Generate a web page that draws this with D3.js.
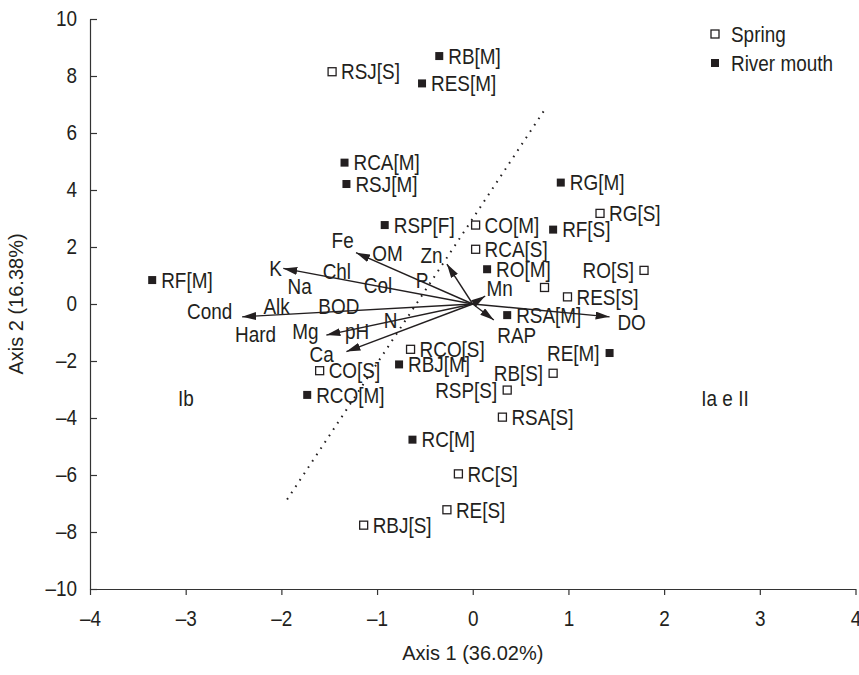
<!DOCTYPE html>
<html lang="en">
<head>
    <meta charset="UTF-8">
    <script src="https://cdn.jsdelivr.net/npm/d3@7/dist/d3.min.js"></script>
    <title>PCA biplot</title>
    <style>
        body { margin: 0; background: #fff; }
        text { font-family: "Liberation Sans", Arial, Helvetica, sans-serif; fill: #231f20; }
    </style>
</head>
<body>
    <svg width="859" height="675"></svg>
    <script>
        // sites - spring (open squares)
        const springNames = ['RSJ[S]', 'RG[S]', 'CO[M]', 'RCA[S]', 'RO[S]', '', 'RES[S]', 'RCO[S]', 'CO[S]', 'RB[S]', 'RSP[S]', 'RSA[S]', 'RC[S]', 'RE[S]', 'RBJ[S]'];
        const springX = [-1.47, 1.33, 0.03, 0.03, 1.79, 0.75, 0.99, -0.65, -1.60, 0.84, 0.36, 0.31, -0.15, -0.27, -1.14];
        const springY = [8.15, 3.18, 2.77, 1.92, 1.18, 0.58, 0.25, -1.59, -2.34, -2.43, -3.02, -3.97, -5.96, -7.22, -7.76];

        // sites - river mouth (filled squares)
        const mouthNames = ['RB[M]', 'RES[M]', 'RCA[M]', 'RSJ[M]', 'RG[M]', 'RSP[F]', 'RF[S]', 'RO[M]', 'RF[M]', 'RSA[M]', 'RE[M]', 'RBJ[M]', 'RCO[M]', 'RC[M]'];
        const mouthX = [-0.35, -0.53, -1.34, -1.32, 0.92, -0.92, 0.84, 0.15, -3.35, 0.36, 1.43, -0.77, -1.73, -0.63];
        const mouthY = [8.70, 7.74, 4.96, 4.21, 4.26, 2.77, 2.61, 1.22, 0.84, -0.39, -1.72, -2.12, -3.19, -4.76];

        // labels written on the left of their marker
        const leftLabels = ['RE[M]', 'RB[S]', 'RSP[S]', 'RO[S]'];

        // variable arrows (tips)
        const arrowNames = ['K', 'Cond', 'Fe', 'Mg', 'Ca', 'Zn', 'RAP', 'Mn', 'DO'];
        const arrowX = [-1.98, -2.41, -1.22, -1.53, -1.32, -0.27, 0.22, 0.13, 1.43];
        const arrowY = [1.25, -0.45, 1.80, -1.09, -1.67, 1.40, -0.56, 0.28, -0.45];

        // variable names
        const varNames = ['K', 'Chl', 'Na', 'Alk', 'BOD', 'Cond', 'Hard', 'Mg', 'pH', 'Ca', 'Fe', 'OM', 'Col', 'P', 'Zn', 'Mn', 'N', 'RAP', 'DO'];
        const varX = [-2.06, -1.42, -1.81, -2.05, -1.40, -2.75, -2.27, -1.75, -1.21, -1.58, -1.36, -0.89, -0.99, -0.53, -0.43, 0.28, -0.86, 0.46, 1.66];
        const varY = [1.27, 1.16, 0.61, -0.09, -0.09, -0.27, -1.05, -0.94, -0.97, -1.75, 2.25, 1.78, 0.67, 0.84, 1.72, 0.55, -0.56, -1.09, -0.64];

        // dotted separating line (ends)
        const splitX = [-1.94, 0.76];
        const splitY = [-6.86, 6.86];

        const xTicks = [-4, -3, -2, -1, 0, 1, 2, 3, 4];
        const yTicks = [-10, -8, -6, -4, -2, 0, 2, 4, 6, 8, 10];

        const ink = '#231f20';
        const fs = 21.5;      // label font size
        const narrow = 0.88;  // horizontal squeeze, the original font is a condensed one
        const svg = d3.select('svg');

        const x = d3.scaleLinear().domain([-4, 4]).range([90, 855.5]);
        const y = d3.scaleLinear().domain([-10, 10]).range([589, 19]);

        // axes
        const xAxis = svg.append('g')
            .attr('transform', `translate(0,${y(-10)})`)
            .call(d3.axisBottom(x).tickValues(xTicks).tickSize(6).tickSizeOuter(0).tickPadding(16)
                .tickFormat(d => d < 0 ? '\u2013' + Math.abs(d) : d));
        const yAxis = svg.append('g')
            .attr('transform', `translate(${x(-4)},0)`)
            .call(d3.axisLeft(y).tickValues(yTicks).tickSize(-7).tickSizeOuter(0).tickPadding(13)
                .tickFormat(d => d < 0 ? '\u2013' + Math.abs(d) : d));
        [xAxis, yAxis].forEach(a => {
            a.selectAll('path, line').attr('stroke', '#333').attr('stroke-width', 1.2);
            a.selectAll('text').attr('font-size', fs).attr('fill', ink)
                .style('font-family', '"Liberation Sans", Arial, sans-serif');
        });

        // dotted line
        svg.append('line')
            .attr('x1', x(splitX[0])).attr('y1', y(splitY[0]))
            .attr('x2', x(splitX[1])).attr('y2', y(splitY[1]))
            .attr('stroke', ink).attr('stroke-width', 2)
            .attr('stroke-dasharray', '1.6,6');

        // arrow head
        svg.append('defs').append('marker')
            .attr('id', 'head')
            .attr('viewBox', '0 0 14 8')
            .attr('refX', 14).attr('refY', 4)
            .attr('markerWidth', 14).attr('markerHeight', 8)
            .attr('markerUnits', 'userSpaceOnUse')
            .attr('orient', 'auto')
            .append('path').attr('d', 'M0,0 L14,4 L0,8 Z').attr('fill', ink);

        svg.append('g')
            .selectAll('line')
            .data(arrowNames)
            .enter()
            .append('line')
            .attr('x1', x(0)).attr('y1', y(0))
            .attr('x2', (d, i) => x(arrowX[i]))
            .attr('y2', (d, i) => y(arrowY[i]))
            .attr('stroke', ink).attr('stroke-width', 1.4)
            .attr('marker-end', 'url(#head)');

        svg.append('g')
            .selectAll('text')
            .data(varNames)
            .enter()
            .append('text')
            .attr('x', (d, i) => x(varX[i]))
            .attr('y', (d, i) => y(varY[i]))
            .attr('dy', '0.36em')
            .attr('text-anchor', 'middle')
            .attr('font-size', fs)
            .text(d => d);

        // sites
        function drawSites(names, xs, ys, filled) {
            const g = svg.append('g');
            g.selectAll('rect')
                .data(names)
                .enter()
                .append('rect')
                .attr('x', (d, i) => x(xs[i]) - 4)
                .attr('y', (d, i) => y(ys[i]) - 4)
                .attr('width', 8).attr('height', 8)
                .attr('fill', filled ? ink : '#fff')
                .attr('stroke', ink).attr('stroke-width', filled ? 0 : 1.3);
            g.selectAll('text')
                .data(names)
                .enter()
                .append('text')
                .attr('x', (d, i) => x(xs[i]) + (leftLabels.includes(d) ? -10 : 9))
                .attr('y', (d, i) => y(ys[i]))
                .attr('dy', '0.36em')
                .attr('text-anchor', d => leftLabels.includes(d) ? 'end' : 'start')
                .attr('font-size', fs)
                .text(d => d);
        }
        drawSites(springNames, springX, springY, false);
        drawSites(mouthNames, mouthX, mouthY, true);

        // group labels
        svg.append('text').attr('x', 186).attr('y', 398).attr('dy', '0.36em')
            .attr('text-anchor', 'middle').attr('font-size', fs).text('Ib');
        svg.append('text').attr('x', 725).attr('y', 398).attr('dy', '0.36em')
            .attr('text-anchor', 'middle').attr('font-size', fs).text('Ia e II');

        // legend
        const legend = svg.append('g').attr('transform', 'translate(715,34)');
        [['Spring', false], ['River mouth', true]].forEach((item, i) => {
            legend.append('rect')
                .attr('x', -4).attr('y', i * 29 - 4)
                .attr('width', 8).attr('height', 8)
                .attr('fill', item[1] ? ink : '#fff')
                .attr('stroke', ink).attr('stroke-width', item[1] ? 0 : 1.3);
            legend.append('text')
                .attr('x', 16).attr('y', i * 29).attr('dy', '0.36em')
                .attr('font-size', fs)
                .text(item[0]);
        });

        // squeeze every text horizontally around its own anchor point
        svg.selectAll('text').each(function() {
            const t = d3.select(this);
            const tx = +t.attr('x') || 0;
            const ty = +t.attr('y') || 0;
            t.attr('x', 0).attr('y', 0)
                .attr('transform', `translate(${tx},${ty}) scale(${narrow},1)`);
        });

        // axis titles (normal width)
        svg.append('text')
            .attr('x', x(0)).attr('y', 660)
            .attr('text-anchor', 'middle').attr('font-size', 20)
            .text('Axis 1 (36.02%)');
        svg.append('text')
            .attr('transform', `translate(23,${y(0)}) rotate(-90)`)
            .attr('text-anchor', 'middle').attr('font-size', 20)
            .text('Axis 2 (16.38%)');
    </script>
</body>
</html>
